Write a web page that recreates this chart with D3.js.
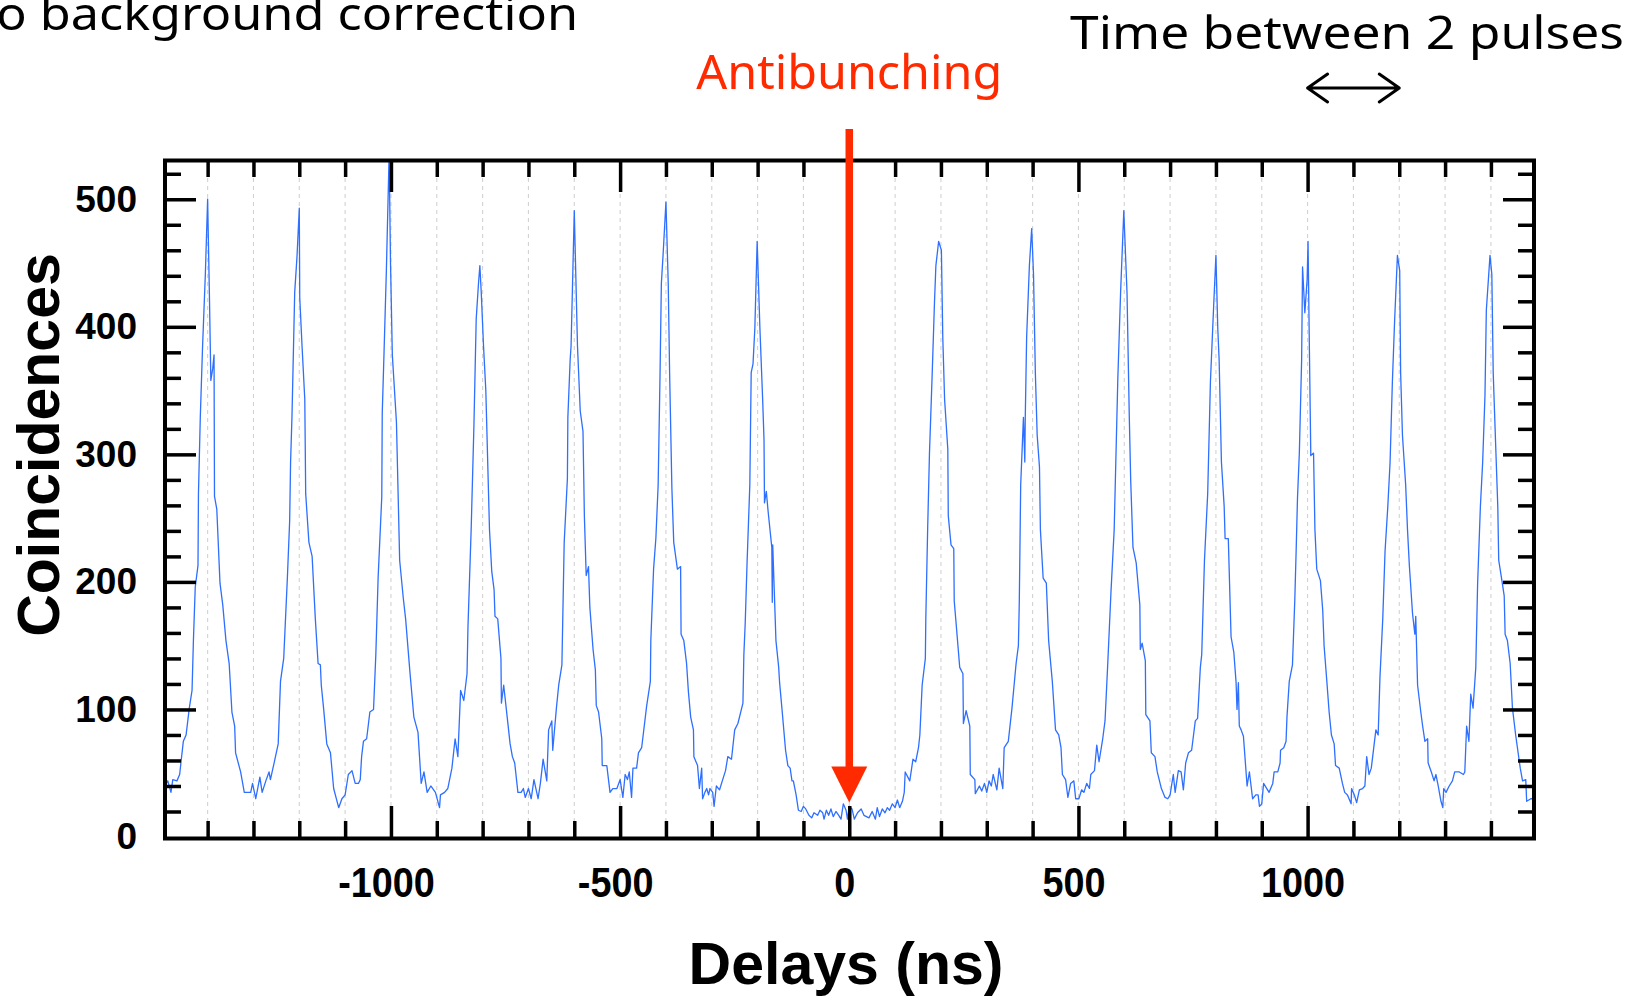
<!DOCTYPE html>
<html>
<head>
<meta charset="utf-8">
<script src="https://cdn.jsdelivr.net/npm/d3@7"></script>
<style>
  html, body { margin: 0; padding: 0; background: #fff; }
  svg { display: block; }
</style>
</head>
<body>
<svg id="chart" width="1641" height="997"></svg>
<script>
// Coincidence histogram, [delay (ns), counts] pairs, split by delay window
const traceA = [[-1500,35],[-1487,44],[-1480,35],[-1476,45],[-1467,44],[-1461,49],[-1458,59],[-1453,75],[-1447,80],[-1440,101],[-1434,115],[-1431,154],[-1427,196],[-1421,213],[-1420,269],[-1416,329],[-1411,385],[-1405,441],[-1400,500],[-1396,423],[-1393,358],[-1389,367],[-1386,378],[-1385,267],[-1380,257],[-1373,199],[-1367,182],[-1360,154],[-1353,136],[-1347,98],[-1341,87],[-1339,66],[-1328,51],[-1320,35],[-1306,35],[-1302,42],[-1295,30],[-1286,47],[-1281,35],[-1273,44],[-1266,51],[-1263,45],[-1255,58],[-1246,73],[-1241,122],[-1234,140],[-1226,203],[-1221,248],[-1219,294],[-1216,329],[-1210,427],[-1205,455],[-1200,493],[-1199,423],[-1194,385],[-1188,343],[-1186,269],[-1179,231],[-1172,220],[-1165,171],[-1159,136],[-1154,135],[-1152,119],[-1147,101],[-1140,73],[-1132,66],[-1125,38],[-1114,23],[-1107,30],[-1100,33],[-1093,49],[-1085,52],[-1078,42],[-1071,42],[-1067,45],[-1064,63],[-1060,75],[-1053,77],[-1046,98],[-1038,100],[-1033,143],[-1028,203],[-1020,267],[-1019,332],[-1015,381],[-1010,444],[-1004,535],[-1001,451],[-997,378],[-988,325],[-981,217],[-973,187],[-968,171],[-959,131],[-950,94],[-941,82],[-934,42],[-928,51],[-921,35],[-913,40],[-903,35],[-894,23],[-892,33],[-883,35],[-876,38],[-867,54],[-860,77],[-854,63],[-848,115],[-841,107],[-834,128],[-832,164],[-825,241],[-819,322],[-814,406],[-809,434],[-806,448],[-803,427],[-798,385],[-793,350],[-785,241],[-780,208],[-775,194],[-773,173],[-767,171],[-760,140],[-759,105],[-754,119]];

const traceB = [[-740,73],[-735,63],[-730,58],[-723,35],[-716,35],[-711,38],[-707,31],[-700,38],[-694,30],[-688,45],[-679,30],[-674,42],[-668,61],[-660,44],[-656,84],[-649,91],[-647,68],[-639,101],[-634,119],[-627,135],[-622,231],[-615,281],[-614,329],[-609,374],[-607,385],[-600,491],[-593,385],[-587,334],[-581,318],[-578,252],[-574,205],[-569,212],[-566,180],[-559,147],[-554,131],[-552,103],[-547,98],[-540,77],[-539,56],[-529,56],[-522,35],[-516,38],[-507,38],[-500,45],[-494,31],[-489,49],[-484,45],[-480,51],[-475,31],[-472,54],[-464,54],[-460,66],[-453,70],[-442,103],[-434,122],[-433,154],[-427,210],[-422,234],[-417,276],[-413,360],[-410,434],[-406,458],[-400,498],[-395,434],[-392,364],[-387,273],[-383,231],[-375,210],[-368,212],[-367,159],[-361,154],[-355,136],[-351,114],[-346,94],[-340,84],[-339,63],[-331,56],[-327,38],[-322,54],[-320,30],[-315,35],[-311,38],[-307,33],[-304,38],[-298,35],[-295,24],[-290,40],[-283,37],[-277,44],[-270,52],[-265,63],[-257,61],[-250,84],[-243,89],[-232,105],[-230,143],[-227,168],[-223,215],[-217,276],[-214,364],[-210,371],[-206,399],[-201,467],[-195,399],[-189,343],[-186,311],[-185,262],[-181,271],[-177,255],[-169,227],[-168,184],[-167,229],[-160,154],[-154,133],[-152,121],[-147,101],[-139,68],[-134,56],[-129,54],[-125,44],[-122,44],[-116,33],[-111,21],[-105,20],[-100,24],[-95,22],[-88,17],[-82,15],[-77,19],[-69,17],[-64,21],[-58,19],[-55,14],[-50,21],[-45,17],[-40,22],[-35,16],[-29,20],[-23,17],[-18,14],[-13,26],[-7,21],[-4,14],[0,24],[6,22],[11,14],[18,19],[26,22]];

const traceC = [[32,17],[43,15],[50,20],[57,14],[61,23],[66,16],[72,22],[78,19],[83,23],[88,21],[94,26],[100,23],[105,29],[110,23],[116,28],[120,35],[122,51],[132,44],[139,61],[145,59],[151,70],[154,80],[159,119],[166,140],[167,171],[171,241],[175,301],[181,364],[186,420],[189,448],[195,467],[201,460],[204,392],[208,343],[215,304],[216,252],[222,229],[228,226],[229,185],[233,168],[241,133],[248,128],[249,89],[255,99],[263,87],[264,49],[274,45],[275,34],[284,40],[289,36],[295,42],[300,35],[305,44],[310,40],[314,49],[322,37],[327,54],[335,38],[338,70],[347,75],[355,101],[364,136],[369,150],[371,185],[374,276],[380,329],[383,294],[384,329],[387,392],[393,448],[398,477],[402,441],[406,364],[410,315],[415,290],[417,241],[423,203],[430,199],[435,154],[443,122],[450,84],[457,80],[462,70],[465,49],[472,45],[477,31],[483,42],[490,44],[494,30],[501,30],[507,37],[512,35],[518,42],[524,38],[527,49],[535,52],[540,72],[545,59],[553,77],[558,91],[564,136],[571,192],[578,241],[586,360],[592,427],[599,491],[606,427],[611,329],[614,280],[619,227],[626,215],[634,182],[635,147],[639,152],[646,138],[647,96],[656,91],[659,66],[667,63],[672,51],[681,38],[689,31],[695,30],[700,33],[707,49],[711,35],[718,52],[724,51],[729,37],[734,58],[740,66],[747,68],[755,91],[760,93],[766,133],[769,143],[775,217]];

const traceD = [[782,269],[788,357],[795,416],[800,456],[804,399],[807,374],[812,294],[818,259],[820,234],[827,234],[833,157],[839,145],[844,121],[846,100],[849,121],[851,87],[855,84],[860,79],[868,40],[873,51],[880,30],[887,33],[892,33],[895,24],[900,26],[904,42],[911,38],[916,35],[924,42],[927,51],[935,51],[940,58],[941,68],[948,70],[953,75],[955,94],[960,122],[967,135],[972,185],[975,224],[978,266],[982,301],[987,374],[989,447],[994,411],[999,437],[1001,467],[1004,381],[1007,299],[1013,301],[1016,241],[1020,210],[1028,201],[1033,178],[1036,150],[1042,122],[1047,98],[1052,80],[1058,73],[1061,56],[1069,54],[1076,42],[1081,35],[1087,33],[1095,26],[1096,38],[1102,33],[1107,27],[1113,37],[1120,38],[1125,40],[1129,63],[1134,49],[1139,54],[1149,84],[1154,80],[1158,126],[1164,171],[1169,224],[1175,259],[1180,294],[1185,357],[1190,406],[1196,456],[1201,444],[1203,364],[1207,315],[1214,276],[1218,241],[1222,213],[1229,175],[1234,159],[1236,173],[1240,119],[1247,98],[1251,87],[1256,75],[1262,77],[1263,58],[1270,51],[1276,44],[1280,49],[1285,40],[1291,28],[1295,23],[1297,38],[1302,35],[1309,40],[1316,44],[1321,51],[1331,51],[1340,49],[1343,51],[1347,87],[1352,75],[1356,112],[1361,101],[1367,133],[1371,199],[1377,259],[1382,294],[1387,346],[1390,413],[1398,456],[1402,441],[1405,364],[1410,311],[1415,259],[1417,217],[1424,201],[1429,189],[1431,159],[1436,154],[1442,136],[1447,101],[1454,80],[1464,54],[1469,44],[1476,45],[1478,28],[1487,30],[1500,30]];

// Axis ticks and labels
const xLabelTicks = [-1000, -500, 0, 500, 1000];
const xMajorTicks = [-1000, -500, 0, 500, 1000];
const xMinorTicks = [-1400,-1300,-1200,-1100,-900,-800,-700,-600,-400,-300,-200,-100,100,200,300,400,600,700,800,900,1100,1200,1300,1400];
const xGridLines = [-1400,-1300,-1200,-1100,-1000,-900,-800,-700,-600,-500,-400,-300,-200,-100,0,100,200,300,400,500,600,700,800,900,1000,1100,1200,1300,1400];
const yLabelTicks = [0, 100, 200, 300, 400, 500];
const yMinorTicks = [20,40,60,80,120,140,160,180,220,240,260,280,320,340,360,380,420,440,460,480,520];

// Annotations
const antibunchingDelay = 0;
const arrowTipCount = 27;
const pulsePeriod = [1000, 1200];

const svg = d3.select("#chart");
const x = d3.scaleLinear().domain([-1493, 1494]).range([165, 1534]);
const y = d3.scaleLinear().domain([0, 530]).range([837, 161]);

const axisFont = "'Liberation Sans', Arial, sans-serif";
const handFont = "'Noto Sans', sans-serif";
const red = "#ff2a00";

svg.append("defs").append("clipPath").attr("id", "plotClip")
  .append("rect").attr("x", 165).attr("y", 161).attr("width", 1369).attr("height", 676);

// dashed vertical grid
svg.append("g").selectAll("line").data(xGridLines).join("line")
  .attr("x1", d => x(d)).attr("x2", d => x(d))
  .attr("y1", 162).attr("y2", 837)
  .attr("stroke", "#d2d2d2").attr("stroke-width", 1.1)
  .attr("stroke-dasharray", "4,4");

// histogram trace
const data = traceA.concat(traceB, traceC, traceD);
svg.append("path").datum(data)
  .attr("clip-path", "url(#plotClip)")
  .attr("fill", "none").attr("stroke", "#2e6fff").attr("stroke-width", 1.3)
  .attr("stroke-linejoin", "round")
  .attr("d", d3.line().x(d => x(d[0])).y(d => y(d[1])));

// ticks (all pointing inward)
function clean(g) {
  g.select(".domain").remove();
  g.selectAll(".tick line").attr("stroke", "#000").attr("stroke-width", 3.5);
}
svg.append("g").attr("transform", "translate(0,837)")
  .call(d3.axisBottom(x).tickValues(xMinorTicks).tickSize(-16).tickFormat("")).call(clean);
svg.append("g").attr("transform", "translate(0,837)")
  .call(d3.axisBottom(x).tickValues(xMajorTicks).tickSize(-31).tickFormat("")).call(clean);
svg.append("g").attr("transform", "translate(0,161)")
  .call(d3.axisTop(x).tickValues(xMinorTicks).tickSize(-16).tickFormat("")).call(clean);
svg.append("g").attr("transform", "translate(0,161)")
  .call(d3.axisTop(x).tickValues(xMajorTicks).tickSize(-31).tickFormat("")).call(clean);
svg.append("g").attr("transform", "translate(165,0)")
  .call(d3.axisLeft(y).tickValues(yMinorTicks).tickSize(-16).tickFormat("")).call(clean);
svg.append("g").attr("transform", "translate(165,0)")
  .call(d3.axisLeft(y).tickValues(yLabelTicks.filter(v => v > 0)).tickSize(-31).tickFormat("")).call(clean);
svg.append("g").attr("transform", "translate(1534,0)")
  .call(d3.axisRight(y).tickValues(yMinorTicks).tickSize(-16).tickFormat("")).call(clean);
svg.append("g").attr("transform", "translate(1534,0)")
  .call(d3.axisRight(y).tickValues(yLabelTicks.filter(v => v > 0)).tickSize(-31).tickFormat("")).call(clean);

// tick labels
const xLab = svg.append("g").attr("transform", "translate(-5,837)")
  .call(d3.axisBottom(x).tickValues(xLabelTicks).tickSize(0).tickPadding(30).tickFormat(d => String(d)));
xLab.select(".domain").remove();
xLab.selectAll("text").attr("font-family", axisFont).attr("font-weight", "bold")
  .attr("font-size", 42).attr("fill", "#000").attr("transform", "scale(0.9,1)");

const yLab = svg.append("g").attr("transform", "translate(165,0)")
  .call(d3.axisLeft(y).tickValues(yLabelTicks).tickSize(0).tickPadding(28).tickFormat(d => String(d)));
yLab.select(".domain").remove();
yLab.selectAll("text").attr("font-family", axisFont).attr("font-weight", "bold")
  .attr("font-size", 37).attr("fill", "#000");

// plot frame
svg.append("rect").attr("x", 165).attr("y", 160.5).attr("width", 1369).attr("height", 678)
  .attr("fill", "none").attr("stroke", "#000").attr("stroke-width", 4);

// axis titles
svg.append("text").attr("x", 846).attr("y", 984).attr("text-anchor", "middle")
  .attr("font-family", axisFont).attr("font-weight", "bold").attr("font-size", 59)
  .text("Delays (ns)");
svg.append("text").attr("transform", "translate(59,445) rotate(-90)").attr("text-anchor", "middle")
  .attr("font-family", axisFont).attr("font-weight", "bold").attr("font-size", 59)
  .text("Coincidences");

// antibunching arrow
const ax = x(antibunchingDelay);
const tipY = y(arrowTipCount);
svg.append("line").attr("x1", ax).attr("x2", ax).attr("y1", 129).attr("y2", tipY - 30)
  .attr("stroke", red).attr("stroke-width", 7.5);
svg.append("path")
  .attr("d", `M${ax - 18},${tipY - 36} L${ax + 18},${tipY - 36} L${ax},${tipY} Z`)
  .attr("fill", red);
svg.append("text").attr("x", ax).attr("y", 89).attr("text-anchor", "middle")
  .attr("font-family", handFont).attr("font-size", 48).attr("fill", red)
  .attr("textLength", 306).attr("lengthAdjust", "spacingAndGlyphs")
  .text("Antibunching");

// pulse period annotation
svg.append("text").attr("x", 1070).attr("y", 49)
  .attr("font-family", handFont).attr("font-size", 46).attr("fill", "#000")
  .attr("textLength", 554).attr("lengthAdjust", "spacingAndGlyphs")
  .text("Time between 2 pulses");
const px0 = x(pulsePeriod[0]), px1 = x(pulsePeriod[1]), py = 88;
svg.append("path")
  .attr("d", `M${px0},${py} L${px1},${py} M${px0 + 20},${py - 14} L${px0},${py} L${px0 + 20},${py + 14} M${px1 - 20},${py - 14} L${px1},${py} L${px1 - 20},${py + 14}`)
  .attr("fill", "none").attr("stroke", "#000").attr("stroke-width", 3)
  .attr("stroke-linecap", "round").attr("stroke-linejoin", "round");

// corner note, running off the left edge of the page
svg.append("text").attr("x", 578).attr("y", 30).attr("text-anchor", "end")
  .attr("font-family", handFont).attr("font-size", 46).attr("fill", "#000")
  .attr("textLength", 620).attr("lengthAdjust", "spacingAndGlyphs")
  .text("No background correction");
</script>
</body>
</html>
